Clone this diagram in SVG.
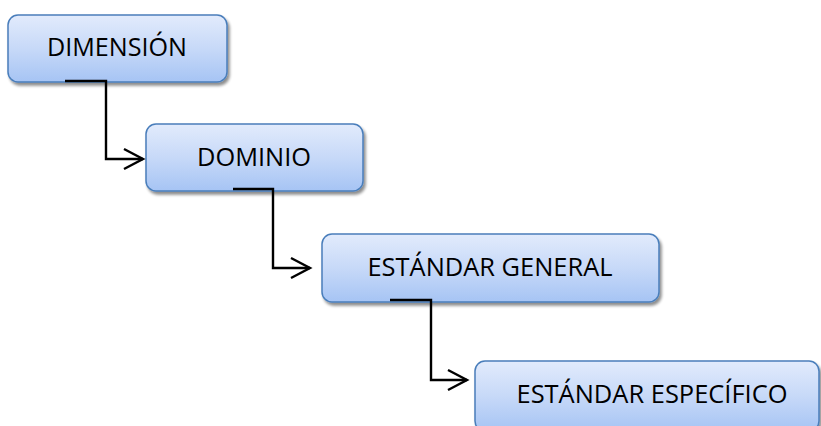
<svg xmlns="http://www.w3.org/2000/svg" width="821" height="426" viewBox="0 0 821 426">
<defs>
<linearGradient id="g" x1="0" y1="0" x2="0" y2="1">
<stop offset="0" stop-color="#e2ebfc"/>
<stop offset="0.5" stop-color="#c7d9f8"/>
<stop offset="1" stop-color="#a6c4f4"/>
</linearGradient>
<filter id="sh" x="-10%" y="-10%" width="130%" height="140%">
<feGaussianBlur in="SourceAlpha" stdDeviation="1.5"/>
<feOffset dx="2" dy="3" result="b"/>
<feComponentTransfer><feFuncA type="linear" slope="0.45"/></feComponentTransfer>
<feMerge><feMergeNode/><feMergeNode in="SourceGraphic"/></feMerge>
</filter>
</defs>
<style>
.box{fill:url(#g);stroke:#4a7ebb;stroke-width:1.5;filter:url(#sh)}
.lbl{font-family:"Open Sans","Liberation Sans",sans-serif;font-size:26px;fill:#000;text-anchor:middle}
.con{fill:none;stroke:#000;stroke-width:2.4}
</style>
<g id="n1">
<rect class="box" x="8" y="15" width="219" height="67" rx="10"/>
<text class="lbl" x="117" y="56" textLength="140" lengthAdjust="spacingAndGlyphs">DIMENSIÓN</text>
</g>
<g id="n2">
<rect class="box" x="146" y="124" width="217" height="67" rx="10"/>
<text class="lbl" x="254" y="166" textLength="114" lengthAdjust="spacingAndGlyphs">DOMINIO</text>
</g>
<g id="n3">
<rect class="box" x="322" y="234" width="337" height="68" rx="10"/>
<text class="lbl" x="490" y="276" textLength="245" lengthAdjust="spacingAndGlyphs">ESTÁNDAR GENERAL</text>
</g>
<g id="n4">
<rect class="box" x="475" y="361" width="344" height="70" rx="10"/>
<text class="lbl" x="652" y="403" textLength="271" lengthAdjust="spacingAndGlyphs">ESTÁNDAR ESPECÍFICO</text>
</g>
<g id="connectors">
<path class="con" d="M65,81 H106 V159 H143"/>
<path class="con" d="M124,149 L143,159 L124,169"/>
<path class="con" d="M233,189 H273 V268 H310"/>
<path class="con" d="M291,258 L310,268 L291,278"/>
<path class="con" d="M390,300 H431 V380 H467"/>
<path class="con" d="M448,370 L467,380 L448,390"/>
</g>
</svg>
